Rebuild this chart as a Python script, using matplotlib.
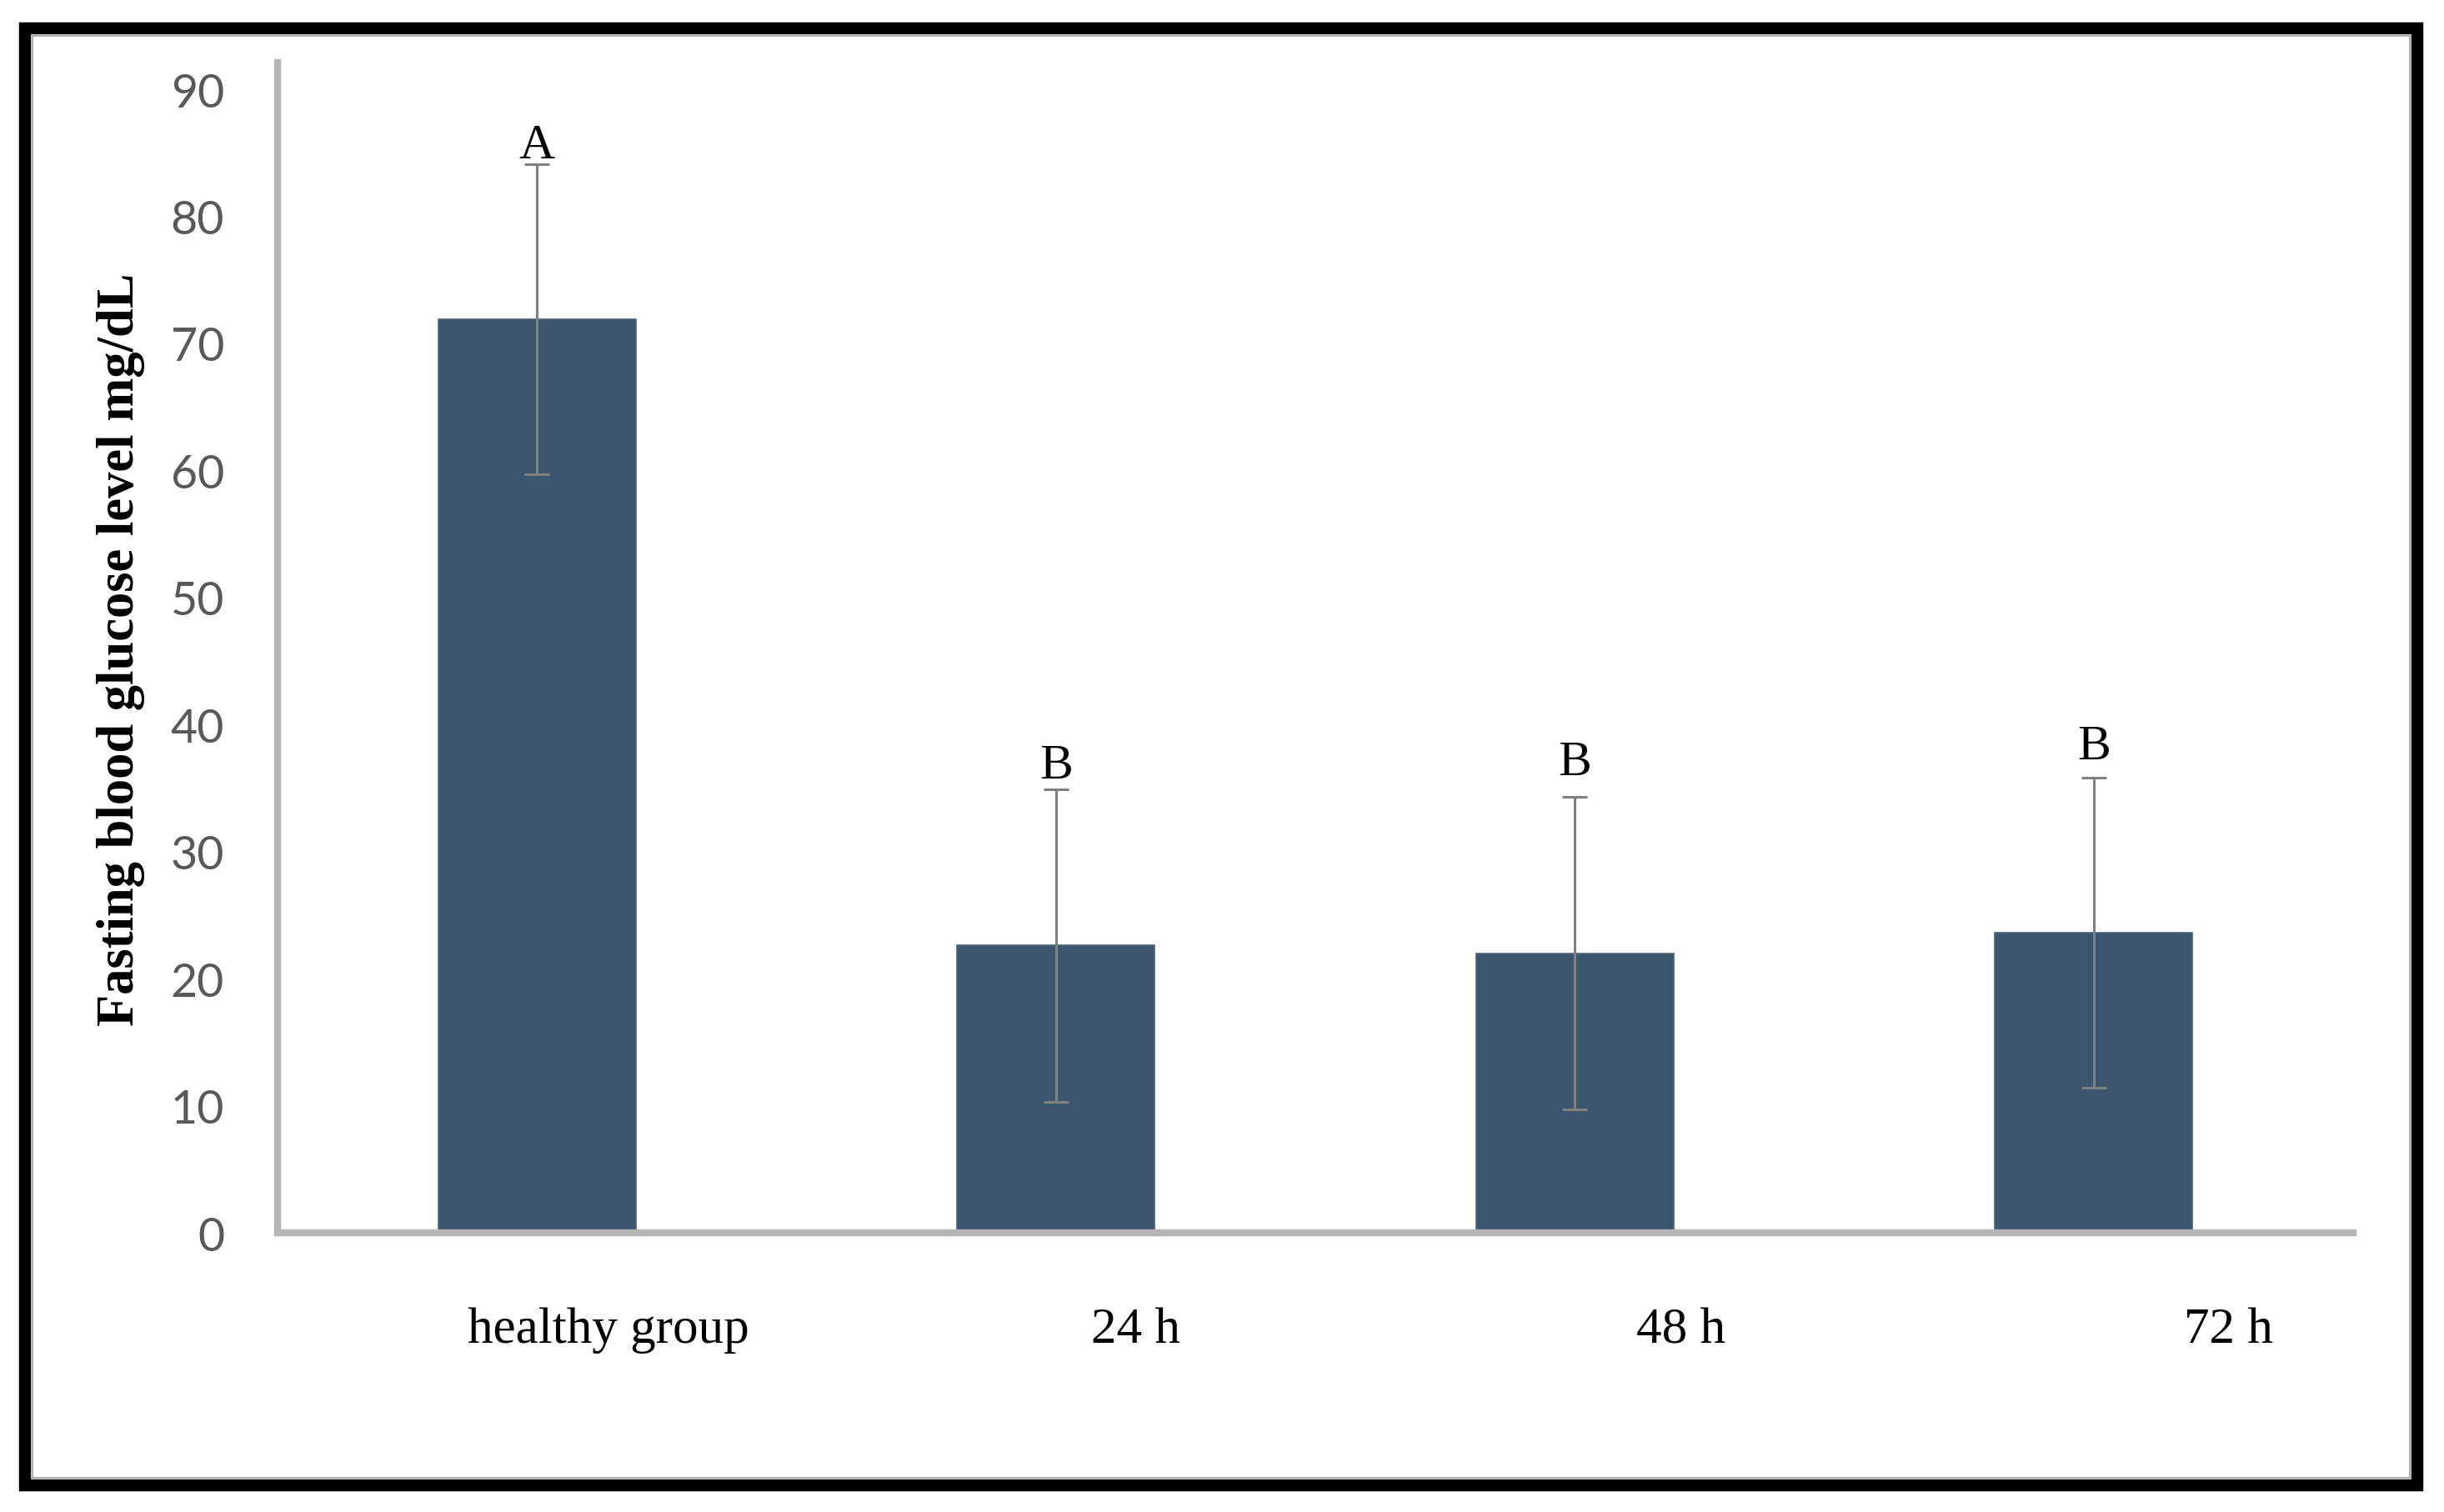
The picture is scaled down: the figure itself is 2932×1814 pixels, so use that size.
import matplotlib

matplotlib.use("Agg")
import matplotlib.pyplot as plt
from matplotlib.patches import Rectangle

# ---------------------------------------------------------------------------
# Data
# ---------------------------------------------------------------------------
groups = ["healthy group", "24 h", "48 h", "72 h"]
means = [71.9, 22.6, 22.0, 23.6]
sds = [12.2, 12.3, 12.3, 12.2]
letters = ["A", "B", "B", "B"]
yticks = [0, 10, 20, 30, 40, 50, 60, 70, 80, 90]

# ---------------------------------------------------------------------------
# Style
# ---------------------------------------------------------------------------
BAR = "#3b556e"
ERR = "#808080"
AXIS = "#b5b5b5"
TICK = "#595959"
SERIF = ["Liberation Serif", "DejaVu Serif"]

fig = plt.figure(figsize=(14.66, 9.075), dpi=200)
ax = fig.add_axes([0.11357, 0.18457, 0.84925, 0.77356])

x = list(range(len(groups)))
ax.bar(x, means, width=0.38, color=BAR, edgecolor="#4a6480", linewidth=0.6, zorder=1)
ax.errorbar(x, means, yerr=sds, fmt="none", ecolor=ERR, elinewidth=1.1,
            capsize=5.4, capthick=1.1, zorder=3)

# significance letters just above the upper error cap (spacing as in original)
letter_gap = [-0.3, 0.05, 0.9, 0.65]
for xi, m, s, g, lab in zip(x, means, sds, letter_gap, letters):
    ax.text(xi, m + s + g, lab, ha="center", va="bottom",
            family=SERIF, fontsize=21.5, color="black")

ax.set_xlim(-0.5, len(groups) - 0.5)
ax.set_ylim(0, 92.1)

# category labels sit a little right of the bars in the original
label_shift = [0.138, 0.153, 0.204, 0.26]
ax.set_xticks([xi + d for xi, d in zip(x, label_shift)])
ax.set_xticklabels(groups, family=SERIF, fontsize=22, color="black")
ax.set_yticks(yticks)
ax.set_yticklabels([str(v) for v in yticks], family="Lato", fontsize=20, color=TICK)
ax.tick_params(axis="x", length=0, pad=32)
ax.tick_params(axis="y", length=0, pad=23)

for side in ["top", "right"]:
    ax.spines[side].set_visible(False)
for side in ["left", "bottom"]:
    ax.spines[side].set_color(AXIS)
    ax.spines[side].set_linewidth(3.0)

ax.set_ylabel("Fasting blood glucose level mg/dL", family=SERIF,
              fontweight="bold", fontsize=22.5, color="black")
ax.yaxis.set_label_coords(-0.064, 0.499)

# black frame around the whole picture
frame = Rectangle((0.01023, 0.01736), 0.97869, 0.96363, transform=fig.transFigure,
                  fill=False, edgecolor="black", linewidth=5.2, zorder=10)
fig.patches.append(frame)
inner = Rectangle((0.01330, 0.02240), 0.97262, 0.95350, transform=fig.transFigure,
                  fill=False, edgecolor="#b0b0b0", linewidth=0.8, zorder=10)
fig.patches.append(inner)

fig.savefig("out.png", dpi=200)
plt.close(fig)
